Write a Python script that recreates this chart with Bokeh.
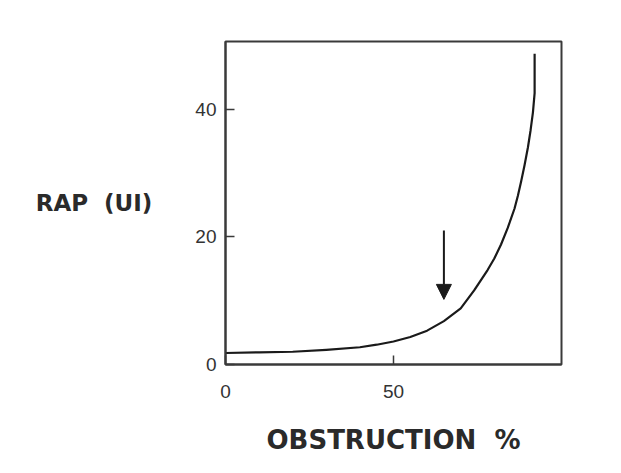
from bokeh.plotting import figure
from bokeh.models import Range1d, FixedTicker, Arrow, NormalHead
from bokeh.embed import file_html
from bokeh.resources import INLINE

# data
obstruction = [0, 10, 20, 30, 40, 45, 50, 55, 60, 65, 70, 74, 78, 80, 82, 84, 86, 87, 88, 89, 90, 90.8, 91.5, 92, 92]
rap = [1.8, 1.9, 2.0, 2.3, 2.7, 3.1, 3.6, 4.3, 5.3, 6.8, 8.8, 11.6, 14.8, 16.6, 18.8, 21.4, 24.4, 26.4, 28.7, 31.2, 34.0, 36.7, 39.5, 42.5, 48.7]
x_ticks = [0, 50]
y_ticks = [0, 20, 40]
arrow_x = 65
arrow_y_start = 21
arrow_y_end = 10.2

p = figure(width=605, height=457, output_backend="svg", toolbar_location=None,
           x_range=Range1d(0, 100), y_range=Range1d(0, 50.6),
           min_border_left=225, min_border_right=44, min_border_top=41, min_border_bottom=92)

p.background_fill_color = "white"
p.border_fill_color = "white"
p.xgrid.visible = False
p.ygrid.visible = False
p.outline_line_color = "#3a3a3a"
p.outline_line_width = 2

p.line(obstruction, rap, line_color="#1a1a1a", line_width=2.2, line_join="round")

p.add_layout(Arrow(end=NormalHead(size=15, fill_color="#1a1a1a", line_color="#1a1a1a"),
                   x_start=arrow_x, y_start=arrow_y_start, x_end=arrow_x, y_end=arrow_y_end,
                   line_color="#1a1a1a", line_width=2))

for ax in (p.xaxis[0], p.yaxis[0]):
    ax.axis_line_color = "#3a3a3a"
    ax.axis_line_width = 2
    ax.major_tick_in = 9
    ax.major_tick_out = 0
    ax.minor_tick_line_color = None
    ax.major_tick_line_color = "#3a3a3a"
    ax.major_tick_line_width = 1.5
    ax.major_label_text_font = "Liberation Sans"
    ax.major_label_text_font_size = "19px"
    ax.major_label_text_color = "#333333"
    ax.axis_label_text_font = "DejaVu Sans"
    ax.axis_label_text_font_style = "bold"
    ax.axis_label_text_color = "#2a2a2a"

p.xaxis.ticker = FixedTicker(ticks=x_ticks)
p.yaxis.ticker = FixedTicker(ticks=y_ticks)
p.xaxis.major_label_standoff = 20
p.yaxis.major_label_standoff = 9

p.xaxis.axis_label = "OBSTRUCTION\u00a0\u00a0%"
p.xaxis.axis_label_text_font_size = "26px"
p.xaxis.axis_label_standoff = 24

p.yaxis.axis_label = "RAP\u00a0\u00a0(UI)"
p.yaxis.axis_label_orientation = "horizontal"
p.yaxis.axis_label_text_font_size = "23px"
p.yaxis.axis_label_standoff = 40

open("out.html", "w").write(file_html(p, INLINE))
